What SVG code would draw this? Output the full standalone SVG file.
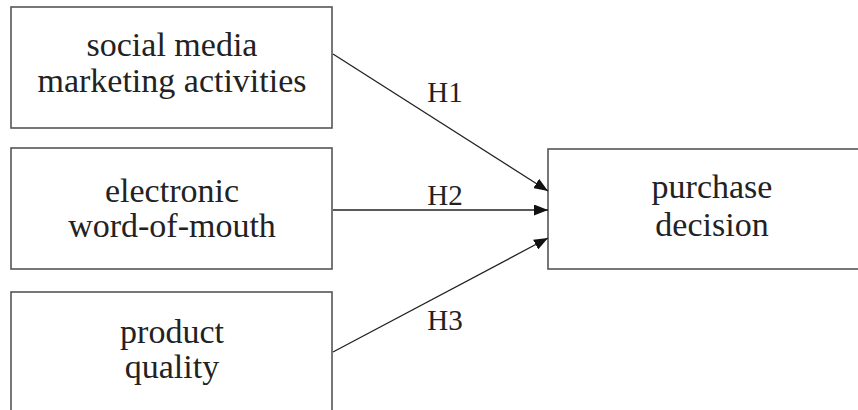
<svg xmlns="http://www.w3.org/2000/svg" width="858" height="410" viewBox="0 0 858 410">
<style>
.box{fill:#fff;stroke:#555;stroke-width:1.6}
.t{font-family:"Liberation Serif","Times New Roman",serif;font-size:34px;fill:#222;text-anchor:middle}
.h{font-family:"Liberation Serif","Times New Roman",serif;font-size:29px;fill:#222;text-anchor:middle}
.e{stroke:#222;stroke-width:1.3;fill:none;marker-end:url(#arr)}
</style>
<defs>
<marker id="arr" viewBox="0 0 14 11" refX="14" refY="5.5" markerWidth="14" markerHeight="11" markerUnits="userSpaceOnUse" orient="auto">
<path d="M0,0 L14,5.5 L0,11 Z" fill="#111"/>
</marker>
</defs>
<rect width="858" height="410" fill="#fff"/>
<g id="n1"><rect class="box" x="11" y="7" width="321" height="121"/>
<text class="t" x="172" y="56">social media</text><text class="t" x="172" y="92">marketing activities</text></g>
<g id="n2"><rect class="box" x="11" y="148" width="321" height="121"/>
<text class="t" x="172" y="202">electronic</text><text class="t" x="172" y="237">word-of-mouth</text></g>
<g id="n3"><rect class="box" x="11" y="292" width="321" height="130"/>
<text class="t" x="172" y="343">product</text><text class="t" x="172" y="378">quality</text></g>
<g id="n4"><rect class="box" x="548" y="149" width="320" height="120"/>
<text class="t" x="712" y="198">purchase</text><text class="t" x="712" y="236">decision</text></g>
<g id="edges">
<line class="e" x1="333" y1="54" x2="548" y2="191"/>
<line class="e" x1="333" y1="210" x2="548" y2="210"/>
<line class="e" x1="333" y1="352" x2="548" y2="238"/>
<text class="h" x="445" y="102">H1</text>
<text class="h" x="445" y="205">H2</text>
<text class="h" x="445" y="330">H3</text>
</g>
</svg>
